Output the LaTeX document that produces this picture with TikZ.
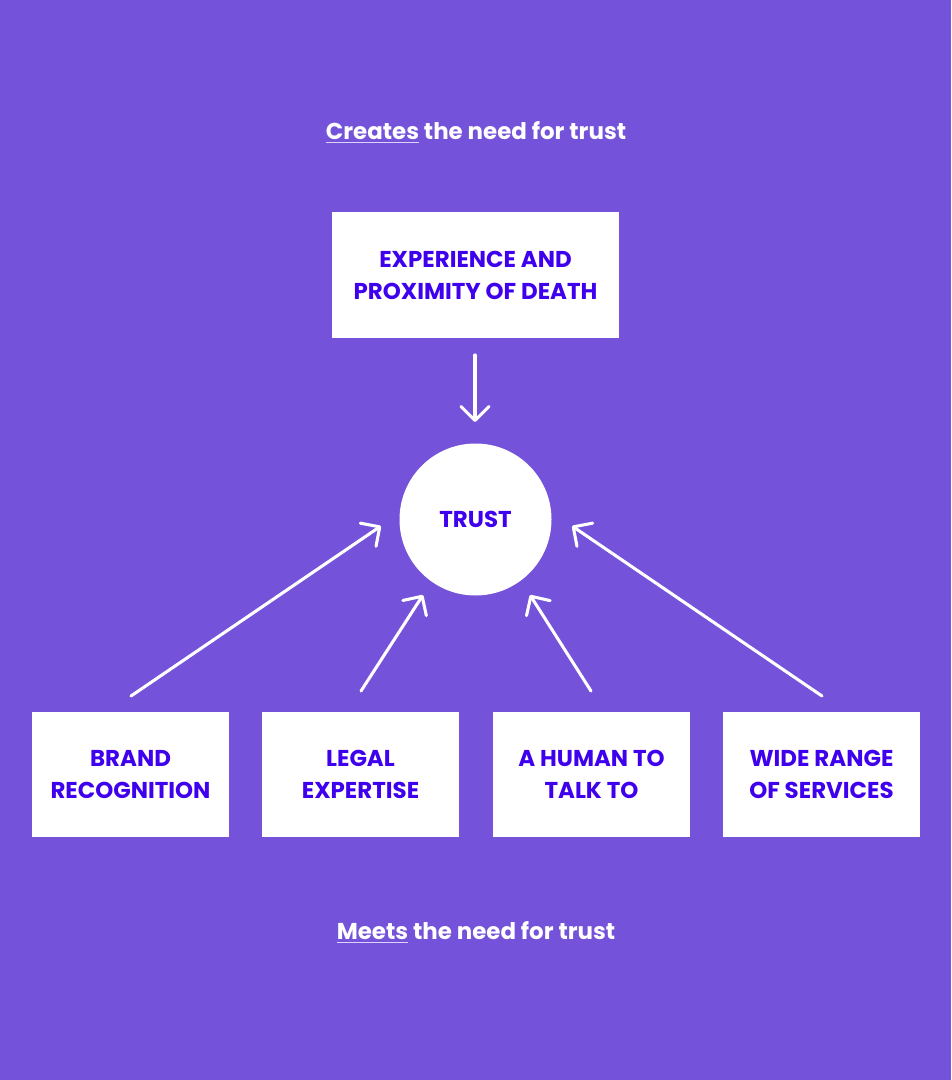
\documentclass[tikz,border=0pt]{standalone}
\usepackage{fontspec}
\setmainfont{Poppins}
\usetikzlibrary{arrows.meta}
\definecolor{bgc}{HTML}{7452D9}
\definecolor{txc}{HTML}{3F00EE}
\newcommand{\ulword}[1]{{\setbox0\hbox{#1}\rlap{\raisebox{-2.6pt}{\color{white!75!bgc}\rule{\wd0}{1pt}}}\box0}}
\tikzset{
  card/.style={fill=white, draw=none, minimum width=147.75pt, minimum height=93.75pt, inner sep=0pt,
    align=center, font=\bfseries\fontsize{17.2}{24}\selectfont, text=txc},
  hub/.style={circle, fill=white, minimum size=114pt, inner sep=0pt, font=\bfseries\fontsize{17.2}{24}\selectfont, text=txc},
  caption/.style={font=\bfseries\fontsize{17.2}{24}\selectfont, text=white, inner sep=0pt},
  link/.style={draw=white, line width=2.3pt, line cap=round,
    -{Straight Barb[length=10.5pt, width=21pt, line cap=round, line join=round]}}
}
\begin{document}
\begin{tikzpicture}[x=0.75pt, y=-0.75pt]
\fill[bgc] (0,0) rectangle (951,1080);
\useasboundingbox (0,0) rectangle (951,1080);
\node[caption] (ctop) at (476,132.5) {\ulword{Creates} the need for trust};
\node[caption] (cbot) at (476,932.5) {\ulword{Meets} the need for trust};
\node[card, minimum width=215.25pt] (death) at (475.5,275) {EXPERIENCE AND\\PROXIMITY OF DEATH};
\node[hub] (trust) at (475.5,519.5) {TRUST};
\node[card] (brand) at (130.5,774.5) {BRAND\\RECOGNITION};
\node[card] (legal) at (360.5,774.5) {LEGAL\\EXPERTISE};
\node[card] (human) at (591.5,774.5) {A HUMAN TO\\TALK TO};
\node[card] (wide) at (821.5,774.5) {WIDE RANGE\\OF SERVICES};
\coordinate (d0) at (475,355); \coordinate (d1) at (475,422);
\coordinate (b0) at (131,696); \coordinate (b1) at (381,526);
\coordinate (l0) at (361,691); \coordinate (l1) at (423,595);
\coordinate (h0) at (591,691); \coordinate (h1) at (530,595);
\coordinate (w0) at (822,696); \coordinate (w1) at (572,526);
\draw[link] (d0) -- (d1);
\draw[link] (b0) -- (b1);
\draw[link] (l0) -- (l1);
\draw[link] (h0) -- (h1);
\draw[link] (w0) -- (w1);
\end{tikzpicture}
\end{document}
